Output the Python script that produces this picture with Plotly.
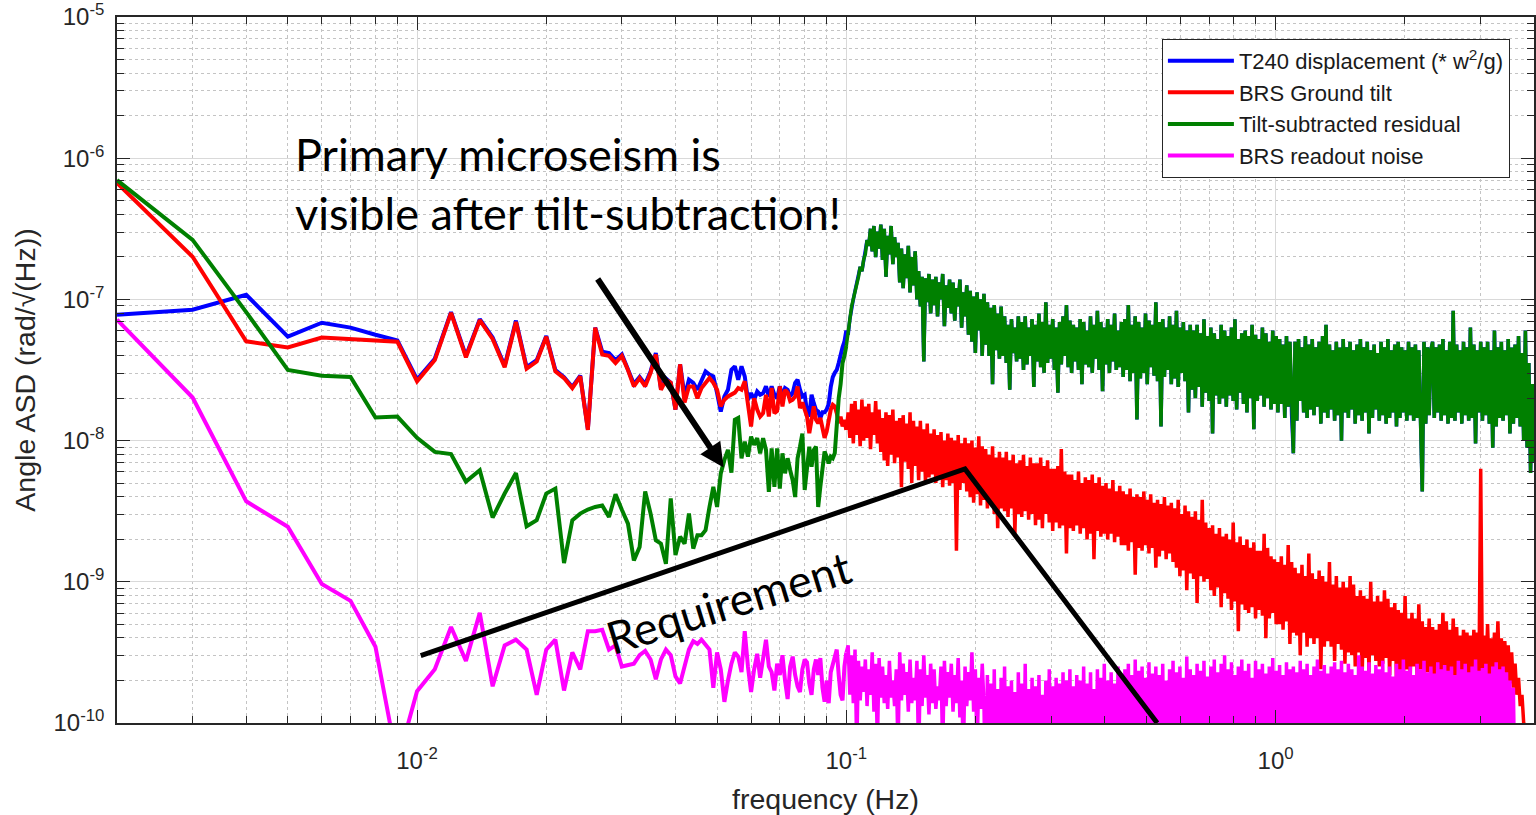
import numpy as np
import plotly.graph_objects as go

# ---------------------------------------------------------------------------
# Angle amplitude spectral densities, stored as log10(rad/sqrt(Hz)).
# Below 0.1 Hz the spectra are on 1 mHz bins (0.002 ... 0.100 Hz).
# ---------------------------------------------------------------------------
freq_lo = np.arange(2, 101) * 1e-3

t240_lo_log = [
    -7.108, -7.073, -6.967, -7.264, -7.165, -7.20, -7.25, -7.29, -7.567,
    -7.42, -7.09, -7.40, -7.14, -7.27, -7.47, -7.15, -7.48, -7.43, -7.26,
    -7.50, -7.55, -7.62, -7.54, -7.92, -7.20, -7.37, -7.38, -7.43, -7.39,
    -7.49, -7.60, -7.55, -7.60, -7.51, -7.38, -7.63, -7.56, -7.59, -7.78,
    -7.46, -7.687, -7.569, -7.592, -7.64, -7.569, -7.51, -7.533, -7.545, -7.664,
    -7.794, -7.687, -7.64, -7.498, -7.474, -7.569, -7.474, -7.545, -7.711, -7.664,
    -7.711, -7.652, -7.675, -7.664, -7.616, -7.687, -7.616, -7.675, -7.70, -7.616,
    -7.687, -7.628, -7.64, -7.687, -7.664, -7.592, -7.569, -7.64, -7.687, -7.675,
    -7.794, -7.829, -7.675, -7.735, -7.782, -7.794, -7.84, -7.80, -7.80, -7.78,
    -7.74, -7.62, -7.55, -7.52, -7.50, -7.45, -7.38, -7.34, -7.30, -7.22,
]

tilt_lo_log = [
    -6.176, -6.698, -7.297, -7.34, -7.27, -7.28, -7.29, -7.30, -7.58,
    -7.43, -7.095, -7.41, -7.147, -7.28, -7.48, -7.16, -7.49, -7.44, -7.265,
    -7.51, -7.557, -7.628, -7.545, -7.924, -7.20, -7.39, -7.40, -7.45, -7.40,
    -7.50, -7.616, -7.557, -7.616, -7.52, -7.39, -7.64, -7.569, -7.59, -7.78,
    -7.46, -7.73, -7.616, -7.616, -7.70, -7.628, -7.59, -7.557, -7.59, -7.64,
    -7.758, -7.71, -7.687, -7.675, -7.66, -7.628, -7.64, -7.58, -7.73, -7.90,
    -7.70, -7.78, -7.83, -7.806, -7.675, -7.83, -7.628, -7.806, -7.79, -7.616,
    -7.758, -7.64, -7.66, -7.72, -7.71, -7.687, -7.616, -7.77, -7.73, -7.79,
    -7.83, -7.948, -7.83, -7.758, -7.853, -7.877, -7.84, -7.924, -7.98, -7.936,
    -7.853, -7.78, -7.746, -7.758, -7.806, -7.877, -7.83, -7.90, -7.853, -7.924,
]

resid_lo_log = [
    -6.155, -6.578, -7.09, -7.50, -7.54, -7.55, -7.836, -7.83, -7.98,
    -8.08, -8.095, -8.29, -8.21, -8.545, -8.375, -8.23, -8.607, -8.564, -8.375,
    -8.34, -8.867, -8.564, -8.517, -8.488, -8.47, -8.46, -8.54, -8.38, -8.49,
    -8.588, -8.848, -8.754, -8.36, -8.517, -8.706, -8.73, -8.872, -8.41, -8.81,
    -8.68, -8.73, -8.517, -8.765, -8.67, -8.67, -8.635, -8.47, -8.327, -8.47,
    -8.232, -8.137, -8.066, -8.227, -7.853, -7.84, -8.125, -8.007, -8.114, -7.972,
    -8.03, -7.983, -8.09, -7.983, -8.066, -8.363, -8.055, -8.327, -8.055, -8.34,
    -8.09, -8.232, -8.125, -8.21, -8.28, -8.40, -8.125, -8.043, -7.95, -8.35,
    -8.22, -8.043, -8.185, -8.066, -8.043, -8.47, -8.327, -8.185, -8.078, -8.114,
    -8.161, -8.114, -8.125, -8.09, -7.85, -7.70, -7.60, -7.45, -7.40, -7.33,
]

readout_lo_log = [
    -7.143, -7.695, -8.43, -8.61, -9.015, -9.135, -9.46, -10.28, -9.775,
    -9.62, -9.32, -9.56, -9.22, -9.74, -9.45, -9.41, -9.48, -9.80, -9.48,
    -9.41, -9.77, -9.50, -9.62, -9.35, -9.35, -9.34, -9.48, -9.45, -9.60,
    -9.59, -9.58, -9.52, -9.49, -9.55, -9.69, -9.55, -9.48, -9.52, -9.67,
    -9.72, -9.60, -9.48, -9.42, -9.44, -9.41, -9.45, -9.48, -9.75, -9.50,
    -9.62, -9.85, -9.70, -9.58, -9.50, -9.53, -9.64, -9.35, -9.60, -9.78,
    -9.62, -9.51, -9.68, -9.55, -9.41, -9.60, -9.64, -9.77, -9.58, -9.66,
    -9.52, -9.70, -9.83, -9.60, -9.53, -9.66, -9.74, -9.78, -9.62, -9.55,
    -9.57, -9.72, -9.80, -9.62, -9.55, -9.66, -9.54, -9.75, -9.85, -9.70,
    -9.86, -9.64, -9.58, -9.52, -9.48, -9.66, -9.80, -9.84, -9.60, -9.50,
]

# ---------------------------------------------------------------------------
# Above 0.1 Hz: 400 log-spaced bins from 0.101 Hz to 4 Hz.
# ---------------------------------------------------------------------------
resid_hi_log = [
    -7.25, -7.14, -7.05, -7.00, -6.94, -6.88, -6.84, -6.77, -6.80, -6.72,
    -6.68, -6.58, -6.62, -6.50, -6.66, -6.48, -6.70, -6.52, -6.64, -6.47,
    -6.72, -6.50, -6.84, -6.55, -6.68, -6.48, -6.75, -6.56, -6.70, -6.60,
    -6.88, -6.64, -6.92, -6.68, -6.85, -6.62, -6.95, -6.70, -6.90, -6.66,
    -7.00, -6.80, -7.05, -6.84, -7.44, -6.85, -7.02, -6.82, -7.10, -6.86,
    -7.04, -6.84, -7.12, -6.88, -7.00, -6.82, -7.19, -6.90, -7.06, -6.86,
    -7.10, -6.88, -7.15, -6.92, -7.05, -6.86, -7.20, -6.95, -7.12, -6.90,
    -7.25, -6.94, -7.30, -6.98, -7.38, -6.95, -7.22, -7.00, -7.40, -6.96,
    -7.32, -7.02, -7.40, -7.06, -7.60, -7.04, -7.36, -7.10, -7.42, -7.05,
    -7.40, -7.12, -7.45, -7.18, -7.64, -7.14, -7.38, -7.20, -7.44, -7.12,
    -7.42, -7.16, -7.50, -7.12, -7.46, -7.20, -7.40, -7.14, -7.62, -7.18,
    -7.44, -7.10, -7.48, -7.16, -7.52, -7.02, -7.45, -7.18, -7.42, -7.14,
    -7.50, -7.20, -7.66, -7.16, -7.46, -7.12, -7.40, -7.04, -7.48, -7.15,
    -7.52, -7.18, -7.44, -7.20, -7.50, -7.14, -7.60, -7.16, -7.46, -7.22,
    -7.48, -7.12, -7.52, -7.18, -7.42, -7.08, -7.50, -7.16, -7.65, -7.20,
    -7.46, -7.14, -7.52, -7.18, -7.44, -7.10, -7.50, -7.22, -7.48, -7.16,
    -7.55, -7.14, -7.50, -7.04, -7.58, -7.18, -7.52, -7.12, -7.85, -7.16,
    -7.56, -7.20, -7.52, -7.10, -7.60, -7.15, -7.48, -7.18, -7.54, -7.02,
    -7.58, -7.16, -7.90, -7.14, -7.55, -7.20, -7.50, -7.12, -7.60, -7.18,
    -7.56, -7.08, -7.62, -7.20, -7.52, -7.16, -7.58, -7.22, -7.80, -7.18,
    -7.64, -7.22, -7.70, -7.18, -7.62, -7.24, -7.76, -7.14, -7.66, -7.26,
    -7.72, -7.20, -7.95, -7.24, -7.68, -7.28, -7.74, -7.18, -7.70, -7.22,
    -7.76, -7.26, -7.68, -7.20, -7.72, -7.14, -7.78, -7.28, -7.66, -7.24,
    -7.74, -7.22, -7.80, -7.26, -7.70, -7.18, -7.92, -7.25, -7.72, -7.28,
    -7.68, -7.20, -7.76, -7.24, -7.70, -7.30, -7.78, -7.22, -7.74, -7.26,
    -7.80, -7.28, -7.74, -7.32, -7.84, -7.26, -7.76, -7.30, -7.82, -8.09,
    -7.30, -7.86, -7.28, -7.72, -7.34, -7.80, -7.26, -7.84, -7.32, -7.78,
    -7.28, -7.82, -7.34, -7.76, -7.30, -7.88, -7.26, -7.80, -7.18, -7.84,
    -7.32, -7.78, -7.36, -7.86, -7.30, -7.82, -7.34, -8.00, -7.28, -7.80,
    -7.34, -7.84, -7.30, -7.78, -7.36, -7.88, -7.32, -7.82, -7.28, -7.86,
    -7.34, -7.80, -7.30, -7.95, -7.36, -7.84, -7.32, -7.78, -7.38, -7.86,
    -7.30, -7.82, -7.34, -7.88, -7.28, -7.84, -7.36, -7.80, -7.32, -7.90,
    -7.30, -7.84, -7.34, -7.80, -7.36, -7.86, -7.30, -7.82, -7.34, -7.86,
    -7.32, -7.84, -7.36, -7.80, -8.36, -7.30, -7.88, -7.34, -7.82, -7.36,
    -7.30, -7.84, -7.34, -7.80, -7.32, -7.86, -7.28, -7.82, -7.36, -7.88,
    -7.30, -7.84, -7.08, -7.86, -7.32, -7.80, -7.36, -7.88, -7.30, -7.82,
    -7.34, -7.86, -7.20, -7.84, -7.32, -8.02, -7.36, -7.80, -7.30, -7.86,
    -7.34, -7.82, -7.30, -7.88, -7.36, -8.05, -7.22, -7.90, -7.34, -7.84,
    -7.30, -7.86, -7.36, -7.82, -7.28, -7.95, -7.34, -7.88, -7.32, -7.84,
    -7.26, -7.90, -7.38, -8.00, -7.22, -8.05, -7.45, -8.23, -7.60, -8.15,
]

# Above 0.1 Hz the T240 curve lies on top of the residual
t240_hi_log = resid_hi_log

tilt_hi_log = [
    -7.80, -7.98, -7.74, -8.02, -7.72, -7.96, -7.78, -8.04, -7.71, -8.00,
    -7.76, -7.98, -7.74, -8.06, -7.80, -7.96, -7.72, -8.02, -7.78, -8.08,
    -7.84, -8.14, -7.80, -8.18, -7.82, -8.10, -7.78, -8.16, -7.86, -8.12,
    -7.84, -8.33, -7.82, -8.15, -7.88, -8.20, -7.80, -8.30, -7.86, -8.18,
    -7.90, -8.28, -7.86, -8.22, -7.92, -8.30, -7.88, -8.26, -7.95, -8.24,
    -7.92, -8.30, -7.96, -8.26, -7.94, -8.33, -8.00, -8.28, -7.95, -8.32,
    -7.98, -8.30, -8.00, -8.78, -7.96, -8.35, -8.02, -8.30, -7.98, -8.36,
    -8.02, -8.40, -8.00, -8.44, -8.05, -8.38, -7.97, -8.46, -8.04, -8.42,
    -8.06, -8.48, -8.10, -8.45, -8.04, -8.52, -8.12, -8.62, -8.08, -8.48,
    -8.12, -8.50, -8.08, -8.54, -8.14, -8.48, -8.10, -8.66, -8.16, -8.52,
    -8.14, -8.54, -8.10, -8.50, -8.18, -8.56, -8.12, -8.52, -8.16, -8.60,
    -8.16, -8.56, -8.12, -8.62, -8.18, -8.52, -8.14, -8.58, -8.20, -8.64,
    -8.20, -8.58, -8.18, -8.62, -8.06, -8.60, -8.22, -8.80, -8.24, -8.62,
    -8.24, -8.64, -8.28, -8.60, -8.22, -8.66, -8.30, -8.62, -8.26, -8.70,
    -8.28, -8.66, -8.24, -8.84, -8.30, -8.64, -8.26, -8.68, -8.32, -8.66,
    -8.30, -8.70, -8.34, -8.66, -8.28, -8.72, -8.36, -8.68, -8.32, -8.74,
    -8.36, -8.74, -8.38, -8.78, -8.34, -8.72, -8.40, -8.95, -8.38, -8.76,
    -8.40, -8.78, -8.36, -8.74, -8.42, -8.80, -8.38, -8.76, -8.44, -8.90,
    -8.42, -8.82, -8.45, -8.78, -8.40, -8.84, -8.46, -8.80, -8.44, -8.86,
    -8.48, -8.90, -8.42, -8.96, -8.52, -8.92, -8.46, -9.06, -8.50, -8.94,
    -8.54, -8.98, -8.50, -9.15, -8.56, -8.96, -8.42, -9.00, -8.58, -8.98,
    -8.62, -9.06, -8.60, -9.10, -8.66, -9.04, -8.62, -9.18, -8.68, -9.08,
    -8.66, -9.12, -8.70, -9.20, -8.58, -9.14, -8.72, -9.35, -8.68, -9.16,
    -8.74, -9.20, -8.70, -9.22, -8.76, -9.18, -8.72, -9.26, -8.78, -9.20,
    -8.78, -9.24, -8.66, -9.40, -8.76, -9.26, -8.82, -9.22, -8.84, -9.30,
    -8.86, -9.30, -8.82, -9.34, -8.88, -9.28, -8.74, -9.44, -8.86, -9.36,
    -8.90, -9.38, -8.94, -9.52, -8.88, -9.36, -8.96, -9.46, -8.80, -9.40,
    -8.94, -9.44, -8.98, -9.40, -8.92, -9.62, -8.96, -9.46, -9.00, -9.42,
    -8.86, -9.46, -9.02, -9.56, -8.96, -9.44, -9.04, -9.48, -9.00, -9.58,
    -9.04, -9.50, -8.96, -9.52, -9.02, -9.60, -9.10, -9.50, -9.06, -9.68,
    -9.10, -9.54, -9.12, -9.64, -9.00, -9.52, -9.14, -9.56, -9.10, -9.60,
    -9.14, -9.58, -9.06, -9.54, -9.12, -9.66, -9.18, -9.56, -9.15, -9.70,
    -9.20, -9.64, -9.22, -9.68, -9.10, -9.62, -9.26, -9.66, -9.22, -9.60,
    -9.26, -9.66, -9.16, -9.62, -9.28, -9.72, -9.32, -9.64, -9.26, -9.70,
    -9.32, -9.66, -9.34, -9.74, -9.30, -9.68, -9.22, -9.64, -9.28, -9.72,
    -9.34, -9.68, -9.26, -9.70, -9.32, -9.76, -9.38, -9.66, -9.34, -9.70,
    -9.36, -9.68, -9.38, -9.72, -9.34, -9.70, -9.36, -9.66, -8.20, -9.70,
    -9.38, -9.68, -9.30, -9.72, -9.40, -9.70, -9.36, -9.66, -9.28, -9.72,
    -9.40, -9.70, -9.42, -9.68, -9.45, -9.72, -9.50, -9.75, -9.58, -9.80,
    -9.68, -9.88, -9.80, -10.00, -10.10, -10.30, -10.50, -10.70, -10.90, -11.10,
]

readout_hi_log = [
    -9.45, -9.80, -9.52, -9.86, -9.48, -10.20, -9.56, -9.84, -9.60, -9.78,
    -9.55, -9.88, -9.62, -9.80, -9.50, -9.92, -9.58, -10.15, -9.54, -9.82,
    -9.60, -9.86, -9.66, -9.90, -9.56, -9.82, -9.70, -9.88, -9.62, -10.20,
    -9.50, -9.84, -9.58, -9.80, -9.64, -9.92, -9.55, -9.86, -9.68, -9.84,
    -9.56, -10.25, -9.62, -9.88, -9.52, -9.82, -9.66, -9.94, -9.58, -9.86,
    -9.62, -9.90, -9.74, -9.84, -9.60, -10.20, -9.56, -9.88, -9.64, -9.82,
    -9.58, -9.92, -9.66, -9.86, -9.54, -9.96, -9.70, -10.25, -9.60, -9.88,
    -9.64, -9.84, -9.50, -9.92, -9.62, -10.20, -9.68, -9.90, -9.58, -9.86,
    -10.60, -9.66, -10.60, -9.72, -10.60, -9.62, -10.60, -9.76, -10.60, -9.68,
    -10.60, -9.60, -10.60, -9.74, -10.60, -9.70, -10.60, -9.78, -10.60, -9.64,
    -10.60, -9.72, -10.60, -9.58, -10.60, -9.76, -10.60, -9.68, -10.60, -9.74,
    -10.60, -9.66, -10.60, -9.80, -10.60, -9.70, -10.60, -9.62, -10.60, -9.74,
    -10.60, -9.68, -10.60, -9.72, -10.60, -9.64, -10.60, -9.70, -10.60, -9.62,
    -10.60, -9.74, -10.60, -9.66, -10.60, -9.70, -10.60, -9.60, -10.60, -9.72,
    -10.60, -9.64, -10.60, -9.76, -10.60, -9.62, -10.60, -9.68, -10.60, -9.58,
    -10.60, -9.70, -10.60, -9.64, -10.60, -9.72, -10.60, -9.60, -10.60, -9.66,
    -10.60, -9.62, -10.60, -9.58, -10.60, -9.66, -10.60, -9.55, -10.60, -9.63,
    -10.60, -9.60, -10.60, -9.68, -10.60, -9.57, -10.60, -9.65, -10.60, -9.60,
    -10.60, -9.66, -10.60, -9.58, -10.60, -9.70, -10.60, -9.62, -10.60, -9.56,
    -10.60, -9.64, -10.60, -9.60, -10.60, -9.68, -10.60, -9.53, -10.60, -9.62,
    -10.60, -9.66, -10.60, -9.58, -10.60, -9.63, -10.60, -9.56, -10.60, -9.67,
    -10.60, -9.60, -10.60, -9.55, -10.60, -9.64, -10.60, -9.58, -10.60, -9.52,
    -10.60, -9.62, -10.60, -9.57, -10.60, -9.66, -10.60, -9.60, -10.60, -9.55,
    -10.60, -9.63, -10.60, -9.58, -10.60, -9.68, -10.60, -9.56, -10.60, -9.62,
    -10.60, -9.58, -10.60, -9.65, -10.60, -9.60, -10.60, -9.54, -10.60, -9.63,
    -10.60, -9.59, -10.60, -9.66, -10.60, -9.57, -10.60, -9.62, -10.60, -9.60,
    -10.60, -9.64, -10.60, -9.56, -10.60, -9.62, -10.60, -9.58, -10.60, -9.66,
    -10.60, -9.60, -10.60, -9.55, -10.60, -9.63, -10.60, -9.59, -10.60, -9.65,
    -10.60, -9.60, -10.60, -9.57, -10.60, -9.62, -10.60, -9.56, -10.60, -9.64,
    -10.60, -9.58, -10.60, -9.62, -10.60, -9.66, -10.60, -9.52, -10.60, -9.60,
    -10.60, -9.63, -10.60, -9.57, -10.60, -9.65, -10.60, -9.59, -10.60, -9.62,
    -10.60, -9.56, -10.60, -9.64, -10.60, -9.60, -10.60, -9.67, -10.60, -9.58,
    -10.60, -9.62, -10.60, -9.55, -10.60, -9.63, -10.60, -9.60, -10.60, -9.66,
    -10.60, -9.58, -10.60, -9.62, -10.60, -9.56, -10.60, -9.64, -10.60, -9.60,
    -10.60, -9.65, -10.60, -9.57, -10.60, -9.62, -10.60, -9.59, -10.60, -9.63,
    -10.60, -9.60, -10.60, -9.66, -10.60, -9.56, -10.60, -9.62, -10.60, -9.58,
    -10.60, -9.64, -10.60, -9.60, -10.60, -9.55, -10.60, -9.63, -10.60, -9.61,
    -10.60, -9.58, -10.60, -9.65, -10.60, -9.60, -10.60, -9.57, -10.60, -9.62,
    -10.60, -9.60, -10.60, -9.64, -10.60, -9.70, -10.60, -9.75, -10.60,
]

freq_hi = np.geomspace(0.101, 4.0, len(resid_hi_log))

# Requirement curve (corner points)
req_freq = [0.0102, 0.189, 0.53]
req_asd = [3.0e-10, 6.3e-9, 1.0e-10]

series_names = [
    "T240 displacement (* w<sup>2</sup>/g)",
    "BRS Ground tilt",
    "Tilt-subtracted residual",
    "BRS readout noise",
]
series_colors = ["#0000ff", "#ff0000", "#008000", "#ff00ff"]
series_logs = [
    (t240_lo_log, t240_hi_log),
    (tilt_lo_log, tilt_hi_log),
    (resid_lo_log, resid_hi_log),
    (readout_lo_log, readout_hi_log),
]

fig = go.Figure()
for k, (name, color, (lo, hi)) in enumerate(zip(series_names, series_colors, series_logs)):
    lo = np.asarray(lo)
    hi = np.asarray(hi)
    f_hi = freq_hi[:len(hi)]
    fig.add_trace(go.Scatter(
        x=freq_lo, y=10.0 ** lo, mode="lines", name=name, legendgroup=str(k),
        line=dict(color=color, width=4.0),
    ))
    # dense bins above 0.1 Hz, joined to the last low-frequency bin
    fig.add_trace(go.Scatter(
        x=np.concatenate([freq_lo[-1:], f_hi]),
        y=10.0 ** np.concatenate([lo[-1:], hi]),
        mode="lines", name=name, legendgroup=str(k), showlegend=False,
        line=dict(color=color, width=3.5),
    ))

fig.add_trace(go.Scatter(
    x=req_freq, y=req_asd, mode="lines", showlegend=False,
    line=dict(color="black", width=5),
))

AX = "#262626"
TICK_FONT = dict(family="Liberation Sans, Arial, sans-serif", size=24, color=AX)
TITLE_FONT = dict(family="Liberation Sans, Arial, sans-serif", size=28.5, color=AX)
NOTE_FONT = dict(family="Lato, sans-serif", size=45, color="black")

x_major = [1e-2, 1e-1, 1e0]
x_minor = [m * 10.0 ** e for e in range(-3, 1) for m in range(2, 10)
           if 0.002 <= m * 10.0 ** e <= 4]
y_major = [10.0 ** e for e in range(-10, -4)]
y_minor = [m * 10.0 ** e for e in range(-10, -5) for m in range(2, 10)]

common_axis = dict(
    type="log", showline=True, linecolor=AX, linewidth=1.6, mirror="allticks",
    ticks="inside", ticklen=13, tickwidth=1.3, tickcolor=AX,
    showgrid=True, gridcolor="#d9d9d9", gridwidth=1,
    tickfont=TICK_FONT, zeroline=False, automargin=False,
)
minor_axis = dict(tickmode="array", ticks="inside", ticklen=7, tickcolor=AX,
                  tickwidth=1.3, showgrid=True, gridcolor="#c4c4c4",
                  griddash="dot", gridwidth=1)

fig.update_xaxes(
    **common_axis,
    range=[np.log10(0.002), np.log10(4.0)],
    tickmode="array", tickvals=x_major,
    ticktext=["10<sup>-2</sup>", "10<sup>-1</sup>", "10<sup>0</sup>"],
    ticklabelstandoff=15,
    minor=dict(tickvals=x_minor, **minor_axis),
    title=dict(text="frequency (Hz)", font=TITLE_FONT, standoff=16),
)
fig.update_yaxes(
    **common_axis,
    range=[-10, -5],
    tickmode="array", tickvals=y_major,
    ticktext=["10<sup>-%d</sup>" % k for k in range(10, 4, -1)],
    ticklabelstandoff=6,
    minor=dict(tickvals=y_minor, **minor_axis),
    title=dict(text="Angle ASD (rad/\u221a(Hz))", font=TITLE_FONT, standoff=9),
)

fig.add_annotation(
    xref="paper", yref="paper", x=0.1242, y=0.847, xanchor="left", yanchor="top",
    text="Primary microseism is<br>visible after tilt-subtraction!",
    showarrow=False, align="left", font=NOTE_FONT,
)
fig.add_annotation(
    xref="paper", yref="paper", x=0.4316, y=0.172, xanchor="center", yanchor="middle",
    text="Requirement", textangle=-17, showarrow=False, font=NOTE_FONT,
)
fig.add_annotation(
    x=np.log10(0.0518), y=np.log10(6.45e-9), xref="x", yref="y",
    ax=-127, ay=-190, text="", showarrow=True,
    arrowhead=2, arrowsize=0.8, arrowwidth=6, arrowcolor="black",
)

fig.update_layout(
    width=1536, height=815,
    margin=dict(l=117, r=2, t=17, b=92),
    paper_bgcolor="white", plot_bgcolor="white",
    legend=dict(
        x=0.983, y=0.969, xanchor="right", yanchor="top",
        bgcolor="white", bordercolor=AX, borderwidth=1,
        font=dict(family="Liberation Sans, Arial, sans-serif", size=22, color="#1a1a1a"),
        itemwidth=66, tracegroupgap=0,
    ),
)

fig.write_html("out.html")
